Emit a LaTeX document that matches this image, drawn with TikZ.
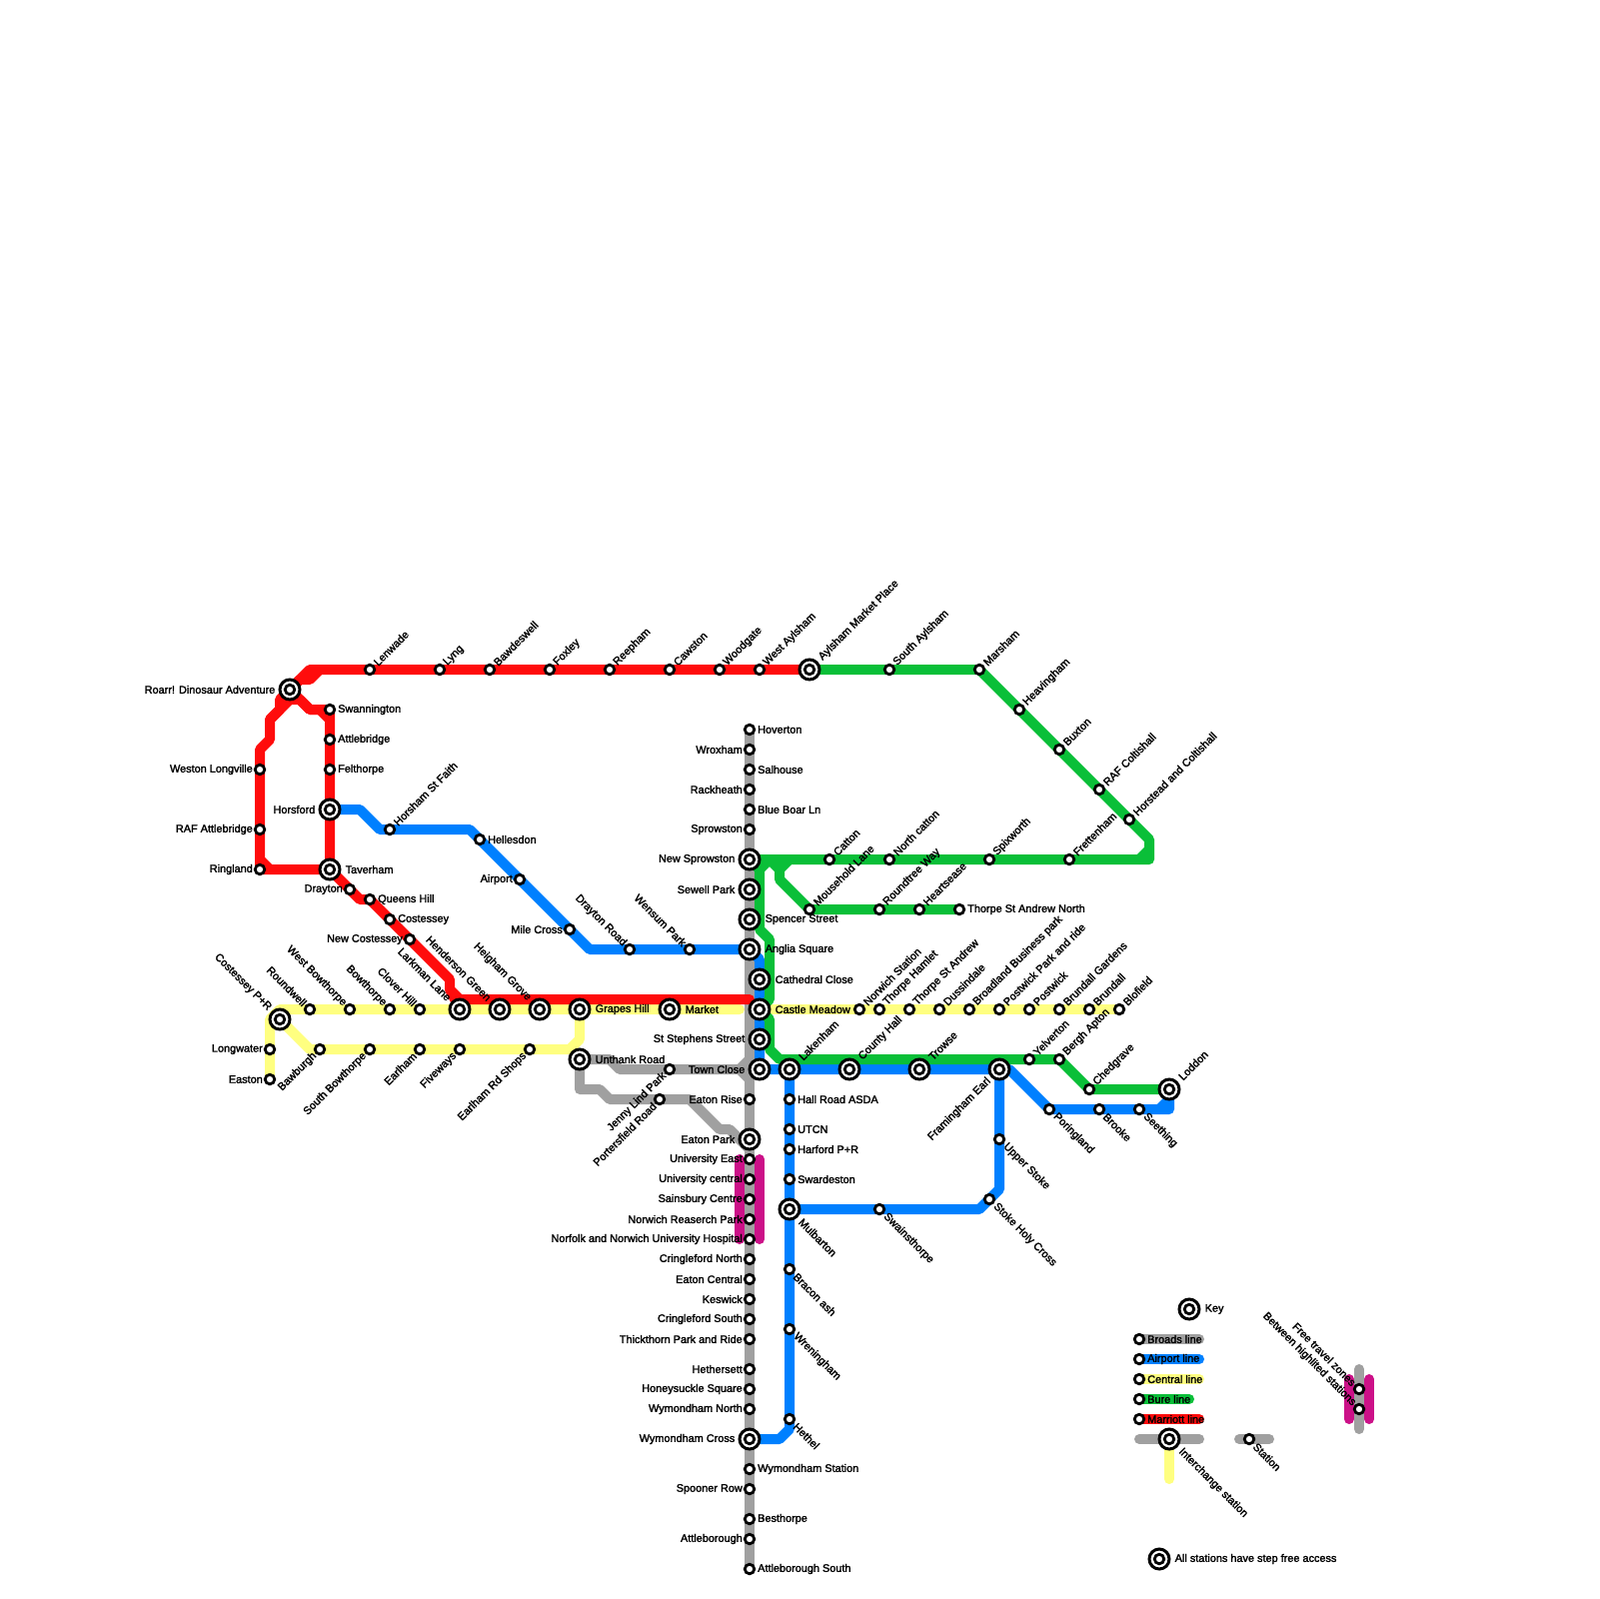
\documentclass[tikz,border=0pt]{standalone}
\usepackage{fontspec}
\usetikzlibrary{positioning}
\newfontfamily\mapfont{Liberation Sans}[FakeBold=2]
\definecolor{broads}{HTML}{A0A0A0}
\definecolor{airport}{HTML}{0080FF}
\definecolor{central}{HTML}{FFFF80}
\definecolor{bure}{HTML}{0ABF38}
\definecolor{marriott}{HTML}{FF0C0C}
\definecolor{freezone}{HTML}{CC1188}
\tikzset{
route/.style={line width=1mm,line cap=round,line join=round},
broadsline/.style={route,broads},
airportline/.style={route,airport},
centralline/.style={route,central},
bureline/.style={route,bure},
marriottline/.style={route,marriott},
freeline/.style={route,freezone},
stop/.style={circle,draw=black,fill=white,line width=0.28mm,minimum size=0.95mm,inner sep=0pt},
hub/.style={circle,draw=black,fill=white,line width=0.3mm,minimum size=2mm,inner sep=0pt},
lab/.style={font=\mapfont\fontsize{3.1pt}{3.5pt}\selectfont,text=black,inner sep=0pt},
R/.style={lab,anchor=west,xshift=#1},
L/.style={lab,anchor=east,xshift=-#1+0.1mm},
NE/.style={lab,rotate=45,anchor=west,xshift=#1},
SE/.style={lab,rotate=-45,anchor=west,xshift=#1},
SW/.style={lab,rotate=45,anchor=east,xshift=-#1+0.1mm},
NW/.style={lab,rotate=-45,anchor=east,xshift=-#1+0.1mm}
}
\newcommand{\Stn}[4]{\node[stop] (#1) at (#2) {}; \node[#3=0.75mm] (#1-t) at (#1) {#4};}
\newcommand{\Hub}[4]{\node[hub] (#1) at (#2) {}; \node[stop] (#1-c) at (#1) {}; \node[#3=1.5mm] (#1-t) at (#1) {#4};}
\begin{document}
\begin{tikzpicture}[x=0.1mm,y=-0.1mm]
\useasboundingbox (0,0) rectangle (1600,1600);
% free travel zones
\draw[freeline] (740,1160) -- (740,1240);
\draw[freeline] (760,1160) -- (760,1240);
\draw[freeline] (1350,1380) -- (1350,1420);
\draw[freeline] (1370,1380) -- (1370,1420);
% broads
\draw[broadsline] (750,730) -- (750,1570);
\draw[broadsline] (580,1060) -- (610,1060) -- (620,1070) -- (760,1070);
\draw[broadsline] (750,1060) -- (740,1070) -- (750,1080);
\draw[broadsline] (580,1060) -- (580,1090) -- (600,1090) -- (610,1100) -- (690,1100) -- (720,1130) -- (730,1130) -- (750,1150);
\draw[broadsline] (1140,1340) -- (1200,1340);
\draw[broadsline] (1140,1440) -- (1200,1440);
\draw[broadsline] (1240,1440) -- (1270,1440);
\draw[broadsline] (1360,1370) -- (1360,1430);
% airport
\draw[airportline] (330,810) -- (360,810) -- (380,830) -- (470,830) -- (590,950) -- (750,950) -- (760,960) -- (760,1070) -- (1010,1070) -- (1050,1110) -- (1170,1110) -- (1170,1090);
\draw[airportline] (1160,1110) -- (1170,1100);
\draw[airportline] (790,1070) -- (790,1430) -- (780,1440) -- (750,1440);
\draw[airportline] (790,1210) -- (980,1210) -- (1000,1190) -- (1000,1070);
\draw[airportline] (1140,1360) -- (1200,1360);
% central
\draw[centralline] (270,1080) -- (270,1020) -- (280,1010) -- (740,1010);
\draw[centralline] (760,1010) -- (1120,1010);
\draw[centralline] (280,1020) -- (310,1050) -- (570,1050) -- (580,1040) -- (580,1010);
\draw[centralline] (1140,1380) -- (1200,1380);
\draw[centralline] (1170,1440) -- (1170,1480);
% bure
\draw[bureline] (810,670) -- (980,670) -- (1150,840) -- (1150,860) -- (750,860) -- (760,870) -- (760,930) -- (770,940) -- (770,1000) -- (760,1010) -- (770,1020) -- (770,1050) -- (780,1060) -- (1060,1060) -- (1090,1090) -- (1170,1090);
\draw[bureline] (770,860) -- (760,870);
\draw[bureline] (1140,860) -- (1150,850);
\draw[bureline] (790,860) -- (780,870) -- (780,880) -- (810,910) -- (960,910);
\draw[bureline] (770,860) -- (780,870);
\draw[bureline] (1140,1400) -- (1190,1400);
% marriott
\draw[marriottline] (290,690) -- (310,670) -- (810,670);
\draw[marriottline] (290,690) -- (300,680) -- (310,680) -- (320,670);
\draw[marriottline] (290,690) -- (280,700) -- (280,710) -- (270,720) -- (270,740) -- (260,750) -- (260,870) -- (330,870);
\draw[marriottline] (260,860) -- (270,870);
\draw[marriottline] (270,720) -- (290,700) -- (300,700) -- (310,710) -- (320,710) -- (330,720);
\draw[marriottline] (290,690) -- (310,710) -- (330,710) -- (330,870) -- (360,900) -- (370,900) -- (450,980) -- (450,990) -- (460,1000) -- (750,1000);
\draw[marriottline] (450,990) -- (460,1010);
\draw[marriottline] (1140,1420) -- (1200,1420);
% marriott stations
\Hub{roarr}{290,690}{L}{Roarr! Dinosaur Adventure}
\Stn{lenwade}{370,670}{NE}{Lenwade}
\Stn{lyng}{440,670}{NE}{Lyng}
\Stn{bawdeswell}{490,670}{NE}{Bawdeswell}
\Stn{foxley}{550,670}{NE}{Foxley}
\Stn{reepham}{610,670}{NE}{Reepham}
\Stn{cawston}{670,670}{NE}{Cawston}
\Stn{woodgate}{720,670}{NE}{Woodgate}
\Stn{westaylsham}{760,670}{NE}{West Aylsham}
\Hub{aylsham}{810,670}{NE}{Aylsham Market Place}
\Stn{swannington}{330,710}{R}{Swannington}
\Stn{attlebridge}{330,740}{R}{Attlebridge}
\Stn{felthorpe}{330,770}{R}{Felthorpe}
\Hub{horsford}{330,810}{L}{Horsford}
\Hub{taverham}{330,870}{R}{Taverham}
\Stn{weston}{260,770}{L}{Weston Longville}
\Stn{rafattle}{260,830}{L}{RAF Attlebridge}
\Stn{ringland}{260,870}{L}{Ringland}
\Stn{drayton}{350,890}{L}{Drayton}
\Stn{queens}{370,900}{R}{Queens Hill}
\Stn{costessey}{390,920}{R}{Costessey}
\Stn{newcostessey}{410,940}{L}{New Costessey}
% airport stations
\Stn{horsham}{390,830}{NE}{Horsham St Faith}
\Stn{hellesdon}{480,840}{R}{Hellesdon}
\Stn{airportst}{520,880}{L}{Airport}
\Stn{milecross}{570,930}{L}{Mile Cross}
\Stn{draytonrd}{630,950}{NW}{Drayton Road}
\Stn{wensum}{690,950}{NW}{Wensum Park}
\Hub{lakenham}{790,1070}{NE}{Lakenham}
\Hub{county}{850,1070}{NE}{County Hall}
\Hub{trowse}{920,1070}{NE}{Trowse}
\Hub{framingham}{1000,1070}{SW}{Framingham Earl}
\Stn{poringland}{1050,1110}{SE}{Poringland}
\Stn{brooke}{1100,1110}{SE}{Brooke}
\Stn{seething}{1140,1110}{SE}{Seething}
\Stn{upperstoke}{1000,1140}{SE}{Upper Stoke}
\Stn{stoke}{990,1200}{SE}{Stoke Holy Cross}
\Stn{swainsthorpe}{880,1210}{SE}{Swainsthorpe}
\Stn{hallroad}{790,1100}{R}{Hall Road ASDA}
\Stn{utcn}{790,1130}{R}{UTCN}
\Stn{harford}{790,1150}{R}{Harford P+R}
\Stn{swardeston}{790,1180}{R}{Swardeston}
\Hub{mulbarton}{790,1210}{SE}{Mulbarton}
\Stn{bracon}{790,1270}{SE}{Bracon ash}
\Stn{wreningham}{790,1330}{SE}{Wreningham}
\Stn{hethel}{790,1420}{SE}{Hethel}
% central stations
\Hub{costesseypr}{280,1020}{NW}{Costessey P+R}
\Stn{roundwell}{310,1010}{NW}{Roundwell}
\Stn{westbow}{350,1010}{NW}{West Bowthorpe}
\Stn{bowthorpe}{390,1010}{NW}{Bowthorpe}
\Stn{clover}{420,1010}{NW}{Clover Hill}
\Hub{larkman}{460,1010}{NW}{Larkman Lane}
\Hub{henderson}{500,1010}{NW}{Henderson Green}
\Hub{heigham}{540,1010}{NW}{Heigham Grove}
\Hub{grapes}{580,1010}{R}{Grapes Hill}
\Hub{market}{670,1010}{R}{Market}
\Stn{longwater}{270,1050}{L}{Longwater}
\Stn{easton}{270,1080}{L}{Easton}
\Stn{bawburgh}{320,1050}{SW}{Bawburgh}
\Stn{southbow}{370,1050}{SW}{South Bowthorpe}
\Stn{earlham}{420,1050}{SW}{Earlham}
\Stn{fiveways}{460,1050}{SW}{Fiveways}
\Stn{earlhamrd}{530,1050}{SW}{Earlham Rd Shops}
\Stn{norwich}{860,1010}{NE}{Norwich Station}
\Stn{hamlet}{880,1010}{NE}{Thorpe Hamlet}
\Stn{standrew}{910,1010}{NE}{Thorpe St Andrew}
\Stn{dussindale}{940,1010}{NE}{Dussindale}
\Stn{broadland}{970,1010}{NE}{Broadland Business park}
\Stn{postwickpr}{1000,1010}{NE}{Postwick Park and ride}
\Stn{postwick}{1030,1010}{NE}{Postwick}
\Stn{brundallg}{1060,1010}{NE}{Brundall Gardens}
\Stn{brundall}{1090,1010}{NE}{Brundall}
\Stn{blofield}{1120,1010}{NE}{Blofield}
% bure stations
\Stn{southaylsham}{890,670}{NE}{South Aylsham}
\Stn{marsham}{980,670}{NE}{Marsham}
\Stn{heavingham}{1020,710}{NE}{Heavingham}
\Stn{buxton}{1060,750}{NE}{Buxton}
\Stn{rafcolt}{1100,790}{NE}{RAF Coltishall}
\Stn{horstead}{1130,820}{NE}{Horstead and Coltishall}
\Stn{catton}{830,860}{NE}{Catton}
\Stn{northcatton}{890,860}{NE}{North catton}
\Stn{spixworth}{990,860}{NE}{Spixworth}
\Stn{frettenham}{1070,860}{NE}{Frettenham}
\Stn{mousehold}{810,910}{NE}{Mousehold Lane}
\Stn{roundtree}{880,910}{NE}{Roundtree Way}
\Stn{heartsease}{920,910}{NE}{Heartsease}
\Stn{standrewn}{960,910}{R}{Thorpe St Andrew North}
\Stn{yelverton}{1030,1060}{NE}{Yelverton}
\Stn{bergh}{1060,1060}{NE}{Bergh Apton}
\Stn{chedgrave}{1090,1090}{NE}{Chedgrave}
\Hub{loddon}{1170,1090}{NE}{Loddon}
% broads stations
\Stn{hoverton}{750,730}{R}{Hoverton}
\Stn{wroxham}{750,750}{L}{Wroxham}
\Stn{salhouse}{750,770}{R}{Salhouse}
\Stn{rackheath}{750,790}{L}{Rackheath}
\Stn{blueboar}{750,810}{R}{Blue Boar Ln}
\Stn{sprowston}{750,830}{L}{Sprowston}
\Hub{newsprowston}{750,860}{L}{New Sprowston}
\Hub{sewell}{750,890}{L}{Sewell Park}
\Hub{spencer}{750,920}{R}{Spencer Street}
\Hub{anglia}{750,950}{R}{Anglia Square}
\Hub{cathedral}{760,980}{R}{Cathedral Close}
\Hub{castle}{760,1010}{R}{Castle Meadow}
\Hub{ststephens}{760,1040}{L}{St Stephens Street}
\Hub{townclose}{760,1070}{L}{Town Close}
\Hub{unthank}{580,1060}{R}{Unthank Road}
\Stn{jenny}{670,1070}{SW}{Jenny Lind Park}
\Stn{porters}{660,1100}{SW}{Portersfield Road}
\Stn{eatonrise}{750,1100}{L}{Eaton Rise}
\Hub{eatonpark}{750,1140}{L}{Eaton Park}
\Stn{unieast}{750,1160}{L}{University East}
\Stn{unicentral}{750,1180}{L}{University central}
\Stn{sainsbury}{750,1200}{L}{Sainsbury Centre}
\Stn{research}{750,1220}{L}{Norwich Reaserch Park}
\Stn{hospital}{750,1240}{L}{Norfolk and Norwich University Hospital}
\Stn{cringnorth}{750,1260}{L}{Cringleford North}
\Stn{eatoncentral}{750,1280}{L}{Eaton Central}
\Stn{keswick}{750,1300}{L}{Keswick}
\Stn{cringsouth}{750,1320}{L}{Cringleford South}
\Stn{thickthorn}{750,1340}{L}{Thickthorn Park and Ride}
\Stn{hethersett}{750,1370}{L}{Hethersett}
\Stn{honeysuckle}{750,1390}{L}{Honeysuckle Square}
\Stn{wymnorth}{750,1410}{L}{Wymondham North}
\Hub{wymcross}{750,1440}{L}{Wymondham Cross}
\Stn{wymstation}{750,1470}{R}{Wymondham Station}
\Stn{spooner}{750,1490}{L}{Spooner Row}
\Stn{besthorpe}{750,1520}{R}{Besthorpe}
\Stn{attleborough}{750,1540}{L}{Attleborough}
\Stn{attlesouth}{750,1570}{R}{Attleborough South}
% key
\Hub{key}{1190,1310}{R}{Key}
\Stn{keybroads}{1140,1340}{R}{Broads line}
\Stn{keyairport}{1140,1360}{R}{Airport line}
\Stn{keycentral}{1140,1380}{R}{Central line}
\Stn{keybure}{1140,1400}{R}{Bure line}
\Stn{keymarriott}{1140,1420}{R}{Marriott line}
\Hub{keyinter}{1170,1440}{SE}{Interchange station}
\Stn{keystation}{1250,1440}{SE}{Station}
\Stn{keyfreea}{1360,1390}{NW}{Free travel zones}
\Stn{keyfreeb}{1360,1410}{NW}{Between highlited stations}
\Hub{keystep}{1160,1560}{R}{All stations have step free access}
\end{tikzpicture}
\end{document}
